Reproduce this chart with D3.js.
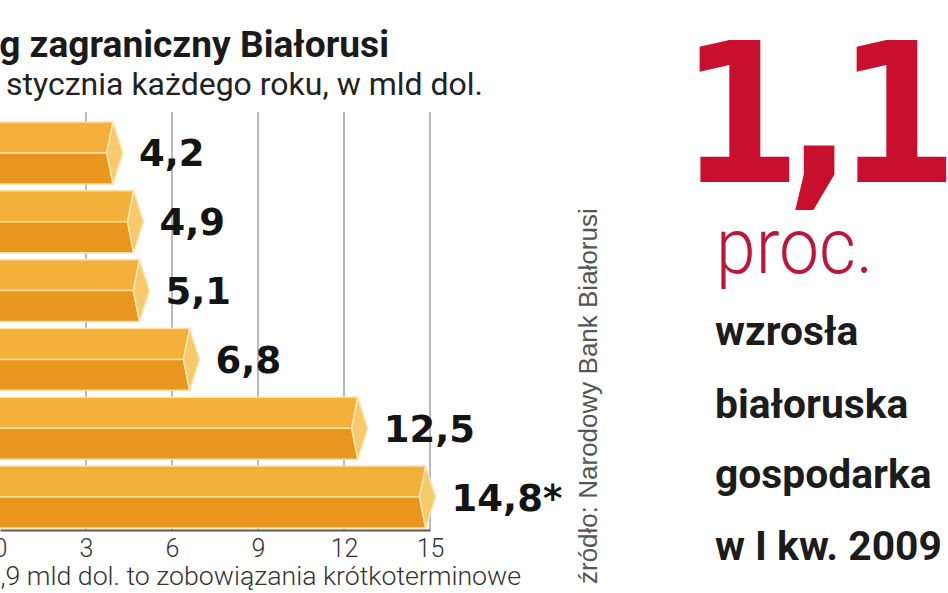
<!DOCTYPE html>
<html><head><meta charset="utf-8">
<script src="https://cdn.jsdelivr.net/npm/d3@7"></script>
<style>html,body{margin:0;padding:0;background:#fff;overflow:hidden}</style>
</head><body>
<svg id="c" width="948" height="593"></svg>
<script>
// ---- data ----
const years = ["2004","2005","2006","2007","2008","2009"];
const debt = [4.2, 4.9, 5.1, 6.8, 12.5, 14.8];
const valueLabels = ["4,2","4,9","5,1","6,8","12,5","14,8*"];
const tickValues = [0,3,6,9,12,15];
const titleText = "Dług zagraniczny Białorusi";
const subtitleText = "stycznia każdego roku, w mld dol.";
const footnoteText = "7,9 mld dol. to zobowiązania krótkoterminowe";
const sourceText = "źródło: Narodowy Bank Białorusi";
const bigNumber = "1,1";
const bigUnit = "proc.";
const captionLines = ["wzrosła","białoruska","gospodarka","w I kw. 2009"];

const svg = d3.select("#c");
const data = years.map((y,i)=>({year:y, value:debt[i], label:valueLabels[i]}));

// scales
const x = d3.scaleLinear().domain([0,15]).range([0,430]);        // axis / grid
const xLen = d3.scaleLinear().domain([0,15]).range([-1,441.5]);  // drawn bar length (tip)
const y = d3.scaleBand().domain(years).range([122,528]).paddingInner(0.1);

function fitSub(sel, startIdx, targetW){
  const node = sel.node();
  const n = node.getNumberOfChars();
  const w = node.getSubStringLength(startIdx, n-startIdx);
  const fs = parseFloat(sel.attr("font-size"));
  sel.attr("font-size", fs*targetW/w);
}

// grid
svg.append("g").selectAll("line").data(tickValues.filter(t=>t>0)).join("line")
  .attr("x1",d=>x(d)).attr("x2",d=>x(d)).attr("y1",112).attr("y2",530)
  .attr("stroke","#a3a3a3").attr("stroke-width",1.5);

// bars
const bars = svg.append("g").selectAll("g").data(data).join("g");
bars.each(function(d){
  const g = d3.select(this);
  const T = xLen(d.value), y0 = y(d.year), h = y.bandwidth(), mid = y0+h/2;
  const c = h*0.16, k = h*0.26;
  const pts = p=>p.map(q=>q.join(",")).join(" ");
  g.append("polygon").attr("points",pts([[-5,y0],[T-c,y0],[T-k,mid],[-5,mid]]))
    .attr("fill","#F3B13B").attr("stroke","#FBE0A4").attr("stroke-width",1.5);
  g.append("polygon").attr("points",pts([[-5,mid],[T-k,mid],[T-c,y0+h],[-5,y0+h]]))
    .attr("fill","#E9961F").attr("stroke","#FBE0A4").attr("stroke-width",1.5);
  g.append("polygon").attr("points",pts([[T-c,y0],[T,mid],[T-c,y0+h],[T-k,mid]]))
    .attr("fill","#F6CA6A").attr("stroke","#FCE7B4").attr("stroke-width",1.5);
  g.append("text").attr("x",T+16).attr("y",mid+13.5)
    .attr("font-family","DejaVu Sans").attr("font-weight",700).attr("font-size",37)
    .attr("fill","#141414").text(d.label);
});

// axis
const axis = svg.append("g").attr("transform","translate(0,530)")
  .call(d3.axisBottom(x).tickValues(tickValues).tickSize(0).tickSizeOuter(0).tickPadding(9).tickFormat(d3.format("d")));
axis.select(".domain").attr("stroke","#5a5a5a").attr("stroke-width",2);
axis.selectAll("text").attr("font-family","Roboto").attr("font-weight",300)
  .attr("font-size",25).attr("fill","#333");

// title
const title = svg.append("text").attr("x",389).attr("y",57).attr("text-anchor","end")
  .attr("font-family","Roboto").attr("font-weight",700).attr("font-size",36)
  .attr("fill","#1a1a1a").text(titleText);
fitSub(title, 3, 390);

const sub = svg.append("text").attr("x",483).attr("y",95).attr("text-anchor","end")
  .attr("font-family","Roboto").attr("font-weight",400).attr("font-size",31)
  .attr("fill","#222").text(subtitleText);
fitSub(sub, 0, 477);

const foot = svg.append("text").attr("x",521).attr("y",585).attr("text-anchor","end")
  .attr("font-family","Roboto").attr("font-weight",300).attr("font-size",26)
  .attr("fill","#333").text(footnoteText);
fitSub(foot, 1, 521);

// source (vertical)
const src = svg.append("text").attr("transform","translate(597,584) rotate(-90)")
  .attr("font-family","Liberation Sans").attr("font-size",24)
  .attr("fill","#555").text(sourceText);
fitSub(src, 0, 376);

// big number
svg.append("text").attr("transform","translate(680,182) scale(0.893,1)")
  .attr("font-family","DejaVu Sans").attr("font-weight",700).attr("font-size",195)
  .attr("letter-spacing",-17)
  .attr("fill","#C8102E")
  .text(bigNumber);

svg.append("text").attr("x",716).attr("y",273)
  .attr("font-family","Roboto").attr("font-weight",300).attr("font-size",78)
  .attr("fill","#BE1638").attr("textLength",157).attr("lengthAdjust","spacingAndGlyphs")
  .text(bigUnit);

// caption
const capBase = [345,418,488,560];
const cap = svg.append("g").selectAll("text").data(captionLines).join("text")
  .attr("x",715).attr("y",(d,i)=>capBase[i])
  .attr("font-family","Roboto").attr("font-weight",700).attr("font-size",40)
  .attr("fill","#1c1c1c").text(d=>d);
const last = d3.select(cap.nodes()[3]);
fitSub(last, 0, 227);
cap.attr("font-size", last.attr("font-size"));
</script>
</body></html>
